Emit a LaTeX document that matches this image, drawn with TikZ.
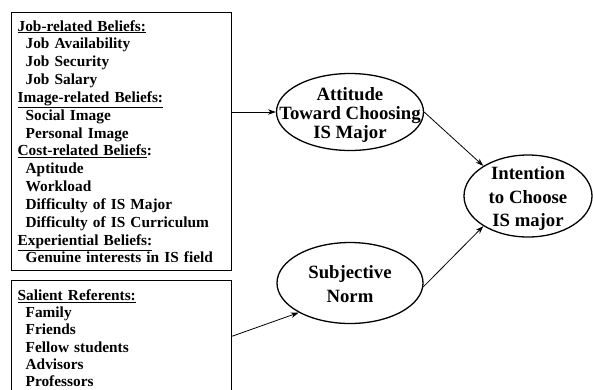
\documentclass[tikz,border=0pt]{standalone}
\usepackage{fontspec}
\setmainfont{Liberation Serif}
\usetikzlibrary{arrows.meta,shapes.geometric,calc}
\begin{document}
\begin{tikzpicture}[x=1bp,y=-1bp,
  boxnode/.style={draw, line width=1.3bp, rectangle, anchor=north west,
    minimum width=220bp, inner xsep=6bp, inner ysep=0pt, align=left,
    text width=208bp, font=\bfseries\fontsize{15.4}{17.9}\selectfont},
  ell/.style={draw, ellipse, line width=1.3bp, inner sep=0pt},
  elltext/.style={align=center, inner sep=0pt,
    font=\bfseries\fontsize{18.8}{19.5}\selectfont},
  elltextb/.style={align=center, inner sep=0pt,
    font=\bfseries\fontsize{18.8}{23.5}\selectfont},
  arr/.style={-{Stealth[length=8bp,width=5.5bp]}, line width=0.8bp}
]
\useasboundingbox (0,0) rectangle (593,389);
\clip (0,0) rectangle (593,389);
\newcommand{\ind}{\hspace*{8bp}}

\node[boxnode, minimum height=258bp] (box1) at (11,12) {%
\underline{Job-related Beliefs:}\\
\ind Job Availability\\
\ind Job Security\\
\ind Job Salary\\
\underline{Image-related Beliefs:}\\
\ind Social Image\\
\ind Personal Image\\
\underline{Cost-related Beliefs}:\\
\ind Aptitude\\
\ind Workload\\
\ind Difficulty of IS Major\\
\ind Difficulty of IS Curriculum\\
\underline{Experiential Beliefs:}\\
\ind Genuine interests in IS field};

\node[boxnode, minimum height=115bp, font=\bfseries\fontsize{15.4}{17.1}\selectfont] (box2) at (11,280) {%
\underline{Salient Referents:}\\
\ind Family\\
\ind Friends\\
\ind Fellow students\\
\ind Advisors\\
\ind Professors};

\node[ell, minimum width=147bp, minimum height=77bp,
  label={[elltext, name=attl, yshift=-3bp]center:{Attitude\\Toward Choosing\\IS Major}}] (att) at (350,112) {};
\node[ell, minimum width=146bp, minimum height=81bp,
  label={[elltextb, name=snl, yshift=-1bp]center:{Subjective\\Norm}}] (sn) at (350,283) {};
\node[ell, minimum width=128bp, minimum height=82bp,
  label={[elltextb, name=intl, yshift=-2.5bp]center:{Intention\\to Choose\\IS major}}] (int) at (528,196) {};

\draw[arr] (box1.east |- att.west) -- (att.west);
\draw[arr] ($(box2.east)+(0,-2)$) -- (sn.210);
\draw[arr] (att.east) -- (int.146);
\draw[arr] (sn.-3) -- (int.214);
\end{tikzpicture}
\end{document}
